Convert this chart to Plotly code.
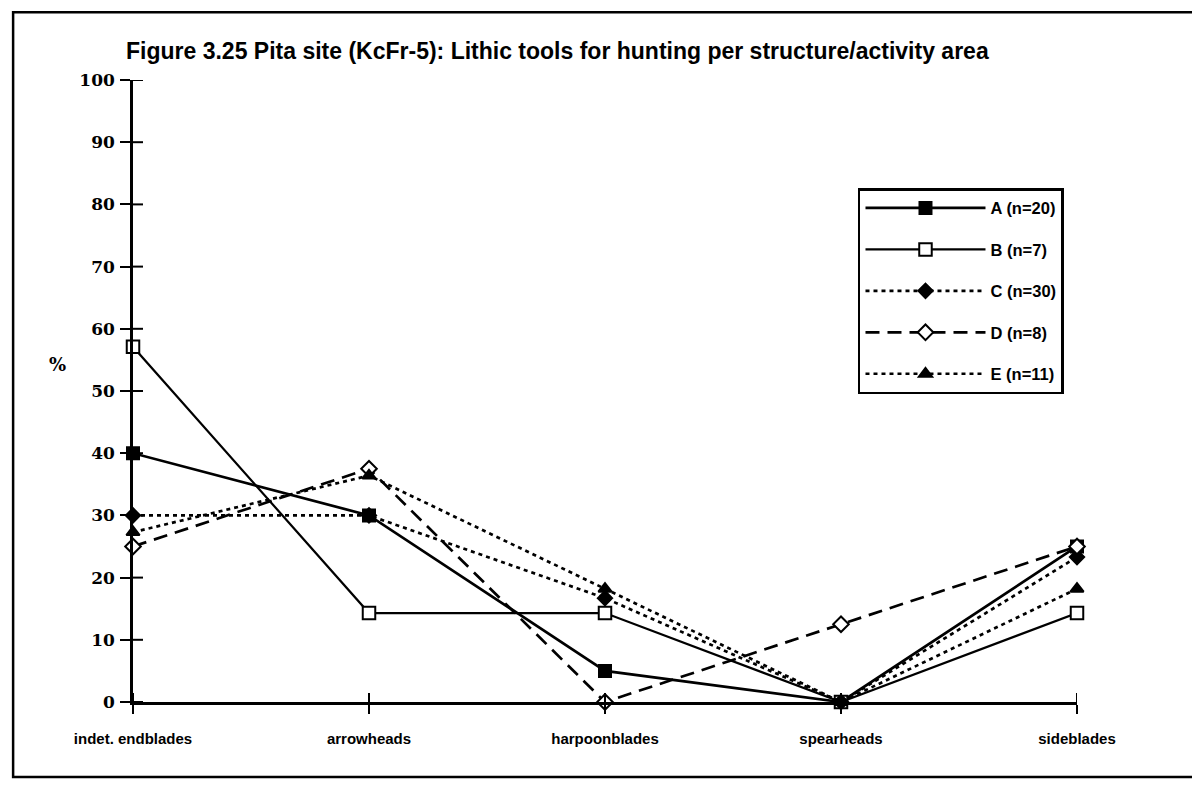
import plotly.graph_objects as go

categories = ["indet. endblades", "arrowheads", "harpoonblades", "spearheads", "sideblades"]
series_names = ["A (n=20)", "B (n=7)", "C (n=30)", "D (n=8)", "E (n=11)"]
A_vals = [40, 30, 5, 0, 25]
B_vals = [57.1, 14.3, 14.3, 0, 14.3]
C_vals = [30, 30, 16.7, 0, 23.3]
D_vals = [25, 37.5, 0, 12.5, 25]
E_vals = [27.3, 36.4, 18.2, 0, 18.2]
y_ticks = list(range(0, 101, 10))

title_text = "Figure 3.25 Pita site (KcFr-5): Lithic tools for hunting per structure/activity area"

styles = [
    dict(dash="solid", width=2.7, symbol="square", size=12, fill="black"),
    dict(dash="solid", width=2.2, symbol="square", size=12.5, fill="white"),
    dict(dash="4px,4px", width=2.7, symbol="diamond", size=11, fill="black"),
    dict(dash="14px,8px", width=2.7, symbol="diamond", size=12, fill="white"),
    dict(dash="4px,4px", width=2.7, symbol="triangle-up", size=11.5, fill="black"),
]
all_vals = [A_vals, B_vals, C_vals, D_vals, E_vals]

fig = go.Figure()
for i, (name, vals, st) in enumerate(zip(series_names, all_vals, styles)):
    fig.add_trace(go.Scatter(
        x=categories, y=vals, name=name, mode="lines+markers",
        legendgroup=f"g{i}",
        cliponaxis=False,
        line=dict(color="black", width=st["width"], dash=st["dash"]),
        marker=dict(symbol=st["symbol"], size=st["size"], color=st["fill"],
                    line=dict(color="black", width=2)),
    ))

sans = "Liberation Sans"
serif = "DejaVu Serif"

# cross-shaped axis ticks (both sides of the axis line), placed through the axes
tick_shapes = []
for v in y_ticks:
    tick_shapes.append(dict(type="line", xref="x", xsizemode="pixel", xanchor=categories[0],
                            x0=-10, x1=10, yref="y", y0=v, y1=v,
                            line=dict(color="black", width=2)))
for c in categories:
    tick_shapes.append(dict(type="line", yref="y", ysizemode="pixel", yanchor=0,
                            y0=-9, y1=9, xref="x", x0=c, x1=c,
                            line=dict(color="black", width=2)))

frame = dict(type="rect", xref="paper", yref="paper",
             x0=-0.127, x1=1.128, y0=-0.1206, y1=1.109,
             line=dict(color="black", width=2.5), layer="below")

fig.update_layout(
    width=1192, height=777,
    margin=dict(l=125, r=123, t=72, b=83),
    paper_bgcolor="white", plot_bgcolor="white",
    showlegend=True,
    title=dict(text=title_text, x=118 / 1192, xref="container", xanchor="left",
               y=1 - 43 / 777, yref="container", yanchor="middle",
               pad=dict(l=0, r=0, t=0, b=0),
               font=dict(family=sans, size=23, color="black", weight="bold")),
    xaxis=dict(type="category", range=[0, 4], showgrid=False, zeroline=False,
               showline=True, linecolor="black", linewidth=2.5,
               ticks="outside", ticklen=9, tickwidth=2, tickcolor="black",
               ticklabelstandoff=12,
               tickfont=dict(family=sans, size=15, color="black", weight="bold")),
    yaxis=dict(range=[0, 100], tickvals=y_ticks, showgrid=False, zeroline=False,
               showline=True, linecolor="black", linewidth=2.5,
               ticks="outside", ticklen=10, tickwidth=2, tickcolor="black",
               ticklabelstandoff=2,
               tickfont=dict(family=serif, size=17, color="black", weight="bold")),
    legend=dict(x=0.768, y=0.826, xanchor="left", yanchor="top",
                bordercolor="black", borderwidth=2.5, bgcolor="white",
                itemwidth=120, tracegroupgap=17,
                font=dict(family=sans, size=16.5, color="black", weight="bold")),
    annotations=[dict(text="%", xref="paper", yref="paper", x=-0.0805, y=0.542,
                      showarrow=False, xanchor="center", yanchor="middle",
                      font=dict(family=serif, size=18, color="black", weight="bold"))],
    shapes=[frame] + tick_shapes,
)

fig.write_html("out.html")
